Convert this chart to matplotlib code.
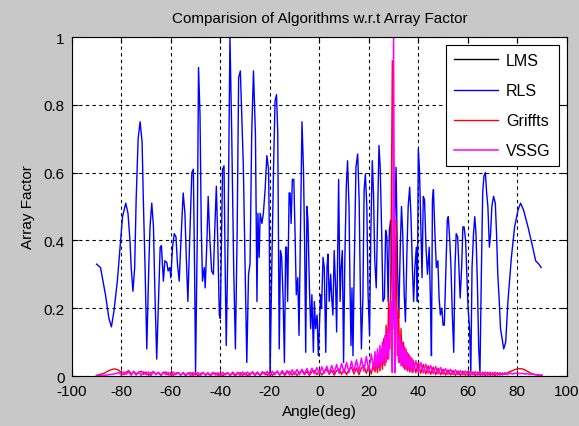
import numpy as np
import matplotlib
matplotlib.use('Agg')
import matplotlib.pyplot as plt

# RLS array factor (angle in deg, value)
rls_angle = [-90, -88.4, -86.4, -85.0, -84.0, -83.0, -81.6, -80.3, -79.5, -78.2,
             -77.3, -76.5, -76.0, -75.3, -74.6, -74.0, -73.2, -72.4, -71.6, -71.1,
             -70.4, -69.7, -68.9, -68.4, -67.7, -67.0, -66.5, -65.7, -65.0, -64.3,
             -63.8, -63.0, -62.4, -61.6, -61.1, -60.4, -60.0, -59.3, -58.6, -57.9,
             -57.3, -56.6, -55.9, -55.0, -54.3, -53.6, -53.1, -52.3, -51.5, -50.9,
             -50.4, -50.0, -49.3, -48.8, -48.2, -47.7, -47.2, -46.5, -46.1, -45.4,
             -44.9, -44.2, -43.5, -42.8, -42.2, -41.6, -41.1, -40.4, -40.0, -39.1,
             -38.5, -38.0, -37.6, -36.9, -36.1, -35.4, -34.6, -33.9, -33.2, -32.6,
             -31.9, -31.2, -30.7, -30.0, -29.3, -28.6, -28.0, -27.3, -26.6, -25.8,
             -25.2, -24.8, -24.3, -23.9, -23.2, -22.6, -21.9, -21.2, -20.5, -20.2,
             -19.9, -19.2, -18.5, -17.9, -17.3, -16.8, -16.2, -15.7, -15.2, -14.6,
             -14.1, -13.6, -13.2, -12.8, -12.2, -11.8, -11.4, -10.9, -10.3, -9.8,
             -9.3, -8.7, -8.2, -7.5, -7.0, -6.4, -5.9, -5.5, -5.0, -4.6,
             -4.0, -3.5, -3.0, -2.4, -2.0, -1.5, -0.9, -0.4, 0.0, 0.5,
             0.9, 1.5, 2.0, 2.6, 3.1, 3.5, 4.0, 4.6, 5.0, 5.5,
             6.0, 6.6, 7.0, 7.8, 8.2, 8.4, 8.8, 9.3, 9.8, 10.3,
             10.9, 11.4, 12.0, 12.4, 12.8, 13.2, 13.6, 14.1, 14.8, 15.5,
             16.1, 16.6, 17.0, 17.6, 18.1, 18.6, 19.2, 19.7, 20.3, 20.8,
             21.4, 21.9, 22.4, 23.0, 23.5, 24.1, 24.6, 25.2, 25.7, 26.3,
             26.8, 27.3, 27.8, 28.3, 28.8, 29.3, 29.7, 30.1, 30.5, 31.0,
             31.6, 32.1, 32.7, 33.2, 33.7, 34.3, 34.8, 35.4, 35.9, 36.5,
             37.0, 37.6, 38.1, 38.6, 39.2, 39.6, 40.0, 40.5, 41.1, 41.5,
             42.0, 42.5, 43.1, 43.7, 44.4, 44.9, 45.3, 45.7, 46.1, 46.7,
             47.3, 47.9, 48.4, 48.9, 49.5, 50.0, 50.5, 51.1, 51.7, 52.1,
             52.7, 53.2, 53.7, 54.3, 54.8, 55.3, 55.9, 56.4, 56.9, 57.5,
             58.0, 58.5, 59.1, 59.6, 60.1, 60.7, 61.2, 61.7, 62.3, 62.8,
             63.3, 63.9, 64.4, 64.9, 65.5, 66.0, 66.5, 67.1, 67.6, 68.1,
             68.7, 69.2, 69.7, 70.4, 71.1, 71.6, 72.1, 72.7, 73.2, 74.5,
             75.3, 76.2, 77.6, 78.9, 80.3, 81.3, 82.5, 84.3, 85.9, 87.4,
             88.7, 89.6]
rls_af = [0.33, 0.32, 0.24, 0.17, 0.145, 0.19, 0.28, 0.40, 0.47, 0.51,
          0.48, 0.40, 0.32, 0.25, 0.32, 0.52, 0.70, 0.75, 0.69, 0.52,
          0.32, 0.08, 0.32, 0.44, 0.51, 0.44, 0.27, 0.05, 0.22, 0.38,
          0.385, 0.28, 0.34, 0.335, 0.31, 0.32, 0.29, 0.38, 0.42, 0.41,
          0.33, 0.28, 0.40, 0.54, 0.48, 0.32, 0.22, 0.42, 0.60, 0.61,
          0.32, 0.01, 0.42, 0.91, 0.77, 0.44, 0.28, 0.32, 0.26, 0.40,
          0.53, 0.40, 0.31, 0.30, 0.44, 0.56, 0.42, 0.18, 0.17, 0.61,
          0.62, 0.30, 0.09, 0.40, 1.00, 0.72, 0.32, 0.08, 0.42, 0.88,
          0.90, 0.74, 0.62, 0.33, 0.04, 0.30, 0.33, 0.72, 0.90, 0.71,
          0.22, 0.48, 0.35, 0.48, 0.45, 0.48, 0.55, 0.65, 0.61, 0.43,
          0.00, 0.32, 0.61, 0.81, 0.83, 0.72, 0.08, 0.37, 0.35, 0.22,
          0.04, 0.38, 0.38, 0.22, 0.54, 0.54, 0.45, 0.58, 0.58, 0.42,
          0.24, 0.29, 0.12, 0.48, 0.75, 0.61, 0.37, 0.07, 0.50, 0.46,
          0.26, 0.14, 0.24, 0.07, 0.22, 0.14, 0.18, 0.06, 0.14, 0.24,
          0.20, 0.35, 0.32, 0.07, 0.32, 0.36, 0.22, 0.30, 0.23, 0.18,
          0.37, 0.26, 0.13, 0.58, 0.32, 0.22, 0.32, 0.37, 0.04, 0.34,
          0.56, 0.635, 0.50, 0.26, 0.09, 0.26, 0.06, 0.32, 0.616, 0.655,
          0.517, 0.24, 0.08, 0.23, 0.547, 0.596, 0.50, 0.24, 0.12, 0.42,
          0.635, 0.537, 0.34, 0.26, 0.458, 0.68, 0.616, 0.42, 0.22, 0.23,
          0.43, 0.41, 0.22, 0.43, 0.46, 0.32, 0.14, 0.40, 0.46, 0.616,
          0.32, 0.17, 0.38, 0.50, 0.42, 0.24, 0.16, 0.37, 0.50, 0.557,
          0.478, 0.32, 0.22, 0.32, 0.38, 0.22, 0.67, 0.60, 0.42, 0.29,
          0.53, 0.52, 0.38, 0.30, 0.38, 0.22, 0.06, 0.52, 0.55, 0.42,
          0.32, 0.34, 0.23, 0.18, 0.20, 0.15, 0.15, 0.30, 0.46, 0.47,
          0.40, 0.32, 0.19, 0.07, 0.32, 0.42, 0.41, 0.32, 0.23, 0.32,
          0.44, 0.44, 0.40, 0.30, 0.20, 0.14, 0.01, 0.32, 0.42, 0.47,
          0.42, 0.26, 0.08, 0.01, 0.32, 0.54, 0.59, 0.60, 0.54, 0.50,
          0.38, 0.42, 0.50, 0.53, 0.51, 0.42, 0.30, 0.22, 0.14, 0.08,
          0.10, 0.22, 0.35, 0.44, 0.49, 0.51, 0.49, 0.44, 0.39, 0.34,
          0.33, 0.32]

# Griffts and VSSG share one angle grid: 1 deg steps, 0.5 deg around the main beam
sidelobe_angle = np.concatenate([np.arange(-90, 22, 1.0),
                                 np.arange(22, 38.5, 0.5),
                                 np.arange(39, 91, 1.0)])
griffts_af = [0.002, 0.004, 0.006, 0.008, 0.012, 0.016, 0.019, 0.021, 0.020, 0.017,
              0.010, 0.004, 0.012, 0.016, 0.006, 0.013, 0.003, 0.011, 0.014, 0.005,
              0.012, 0.002, 0.010, 0.013, 0.004, 0.011, 0.002, 0.009, 0.012, 0.003,
              0.010, 0.002, 0.008, 0.011, 0.003, 0.009, 0.001, 0.008, 0.010, 0.002,
              0.009, 0.001, 0.007, 0.010, 0.002, 0.008, 0.001, 0.007, 0.009, 0.002,
              0.008, 0.001, 0.007, 0.009, 0.002, 0.008, 0.001, 0.007, 0.010, 0.002,
              0.009, 0.001, 0.008, 0.010, 0.002, 0.009, 0.001, 0.008, 0.011, 0.002,
              0.010, 0.002, 0.009, 0.012, 0.003, 0.011, 0.002, 0.010, 0.013, 0.003,
              0.012, 0.002, 0.011, 0.015, 0.004, 0.013, 0.002, 0.012, 0.016, 0.004,
              0.015, 0.003, 0.014, 0.019, 0.005, 0.017, 0.003, 0.016, 0.021, 0.005,
              0.020, 0.004, 0.019, 0.026, 0.006, 0.024, 0.004, 0.023, 0.032, 0.008,
              0.031, 0.006,
              0.040, 0.012, 0.048, 0.010, 0.062, 0.015, 0.080, 0.020, 0.110, 0.030,
              0.150, 0.050, 0.220, 0.080, 0.400, 0.930, 0.600, 0.100, 0.460, 0.060,
              0.200, 0.040, 0.140, 0.030, 0.100, 0.020, 0.080, 0.015, 0.065, 0.012,
              0.055, 0.010, 0.045,
              0.010, 0.040, 0.008, 0.034, 0.006, 0.030, 0.005, 0.026, 0.004, 0.023,
              0.004, 0.020, 0.003, 0.018, 0.003, 0.016, 0.002, 0.015, 0.002, 0.014,
              0.002, 0.013, 0.002, 0.012, 0.001, 0.012, 0.002, 0.011, 0.001, 0.011,
              0.002, 0.010, 0.001, 0.010, 0.003, 0.009, 0.005, 0.010, 0.013, 0.016,
              0.019, 0.021, 0.022, 0.021, 0.018, 0.014, 0.010, 0.007, 0.005, 0.003,
              0.002, 0.001]
vssg_af = [0.001, 0.001, 0.002, 0.002, 0.003, 0.004, 0.005, 0.006, 0.008, 0.010,
           0.003, 0.012, 0.005, 0.013, 0.002, 0.014, 0.006, 0.012, 0.002, 0.013,
           0.004, 0.012, 0.001, 0.013, 0.005, 0.011, 0.002, 0.012, 0.004, 0.011,
           0.001, 0.012, 0.004, 0.010, 0.002, 0.011, 0.003, 0.010, 0.001, 0.011,
           0.003, 0.010, 0.001, 0.011, 0.003, 0.010, 0.002, 0.011, 0.003, 0.010,
           0.001, 0.011, 0.003, 0.010, 0.002, 0.012, 0.003, 0.011, 0.001, 0.012,
           0.003, 0.012, 0.002, 0.013, 0.004, 0.012, 0.002, 0.013, 0.004, 0.014,
           0.002, 0.014, 0.004, 0.015, 0.003, 0.016, 0.005, 0.016, 0.003, 0.018,
           0.005, 0.019, 0.004, 0.020, 0.006, 0.022, 0.005, 0.023, 0.007, 0.025,
           0.006, 0.027, 0.008, 0.029, 0.007, 0.031, 0.009, 0.034, 0.008, 0.037,
           0.010, 0.040, 0.010, 0.044, 0.012, 0.048, 0.012, 0.053, 0.014, 0.058,
           0.015, 0.065,
           0.018, 0.072, 0.020, 0.080, 0.025, 0.090, 0.030, 0.100, 0.035, 0.120,
           0.040, 0.140, 0.050, 0.180, 0.220, 0.010, 1.000, 0.010, 0.200, 0.150,
           0.040, 0.120, 0.030, 0.100, 0.025, 0.085, 0.020, 0.070, 0.018, 0.060,
           0.015, 0.052, 0.012,
           0.045, 0.010, 0.040, 0.009, 0.035, 0.008, 0.031, 0.007, 0.028, 0.006,
           0.025, 0.005, 0.022, 0.005, 0.020, 0.004, 0.018, 0.004, 0.016, 0.003,
           0.015, 0.003, 0.014, 0.003, 0.013, 0.002, 0.012, 0.002, 0.012, 0.002,
           0.011, 0.002, 0.011, 0.002, 0.010, 0.003, 0.010, 0.004, 0.009, 0.006,
           0.008, 0.009, 0.007, 0.008, 0.006, 0.007, 0.005, 0.006, 0.004, 0.004,
           0.003, 0.003]

xticks = [-100, -80, -60, -40, -20, 0, 20, 40, 60, 80, 100]
yticks = [0, 0.2, 0.4, 0.6, 0.8, 1]
ytick_labels = ['0', '0.2', '0.4', '0.6', '0.8', '1']

plt.rcParams['font.family'] = ['Liberation Sans', 'DejaVu Sans']
plt.rcParams['axes.unicode_minus'] = False

fig = plt.figure(figsize=(5.79, 4.27), dpi=100, facecolor='#c8c8c8')
ax = fig.add_axes([0.124, 0.117, 0.855, 0.794])
ax.set_facecolor('white')

ax.plot([], [], color='black', lw=1, label='LMS')
ax.plot(rls_angle, rls_af, color='#0000ff', lw=1.0, label='RLS')
ax.plot(sidelobe_angle, griffts_af, color='#ff0000', lw=1.0, label='Griffts')
ax.plot(sidelobe_angle, vssg_af, color='#ff00ff', lw=1.1, label='VSSG')

ax.set_xlim(-100, 100)
ax.set_ylim(0, 1)
ax.set_xticks(xticks)
ax.set_yticks(yticks)
ax.set_yticklabels(ytick_labels)
ax.tick_params(direction='in', length=4, top=True, right=True, labelsize=11)
ax.tick_params(axis='x', pad=6)
ax.tick_params(axis='y', pad=5)
ax.grid(True, color='black', linestyle=(0, (3, 3)), linewidth=0.8)
for s in ax.spines.values():
    s.set_linewidth(0.8)

ax.set_title('Comparision of Algorithms w.r.t Array Factor', fontsize=11, pad=11)
ax.set_xlabel('Angle(deg)', fontsize=11, labelpad=4)
ax.set_ylabel('Array Factor', fontsize=11, labelpad=6)

leg = ax.legend(loc='upper right', fontsize=11.5, fancybox=False, framealpha=1,
                edgecolor='black', borderaxespad=0.5, handlelength=2.8,
                handletextpad=0.5, labelspacing=0.95, borderpad=0.5)
leg.get_frame().set_linewidth(0.8)

fig.savefig('out.png', dpi=100, facecolor=fig.get_facecolor())
